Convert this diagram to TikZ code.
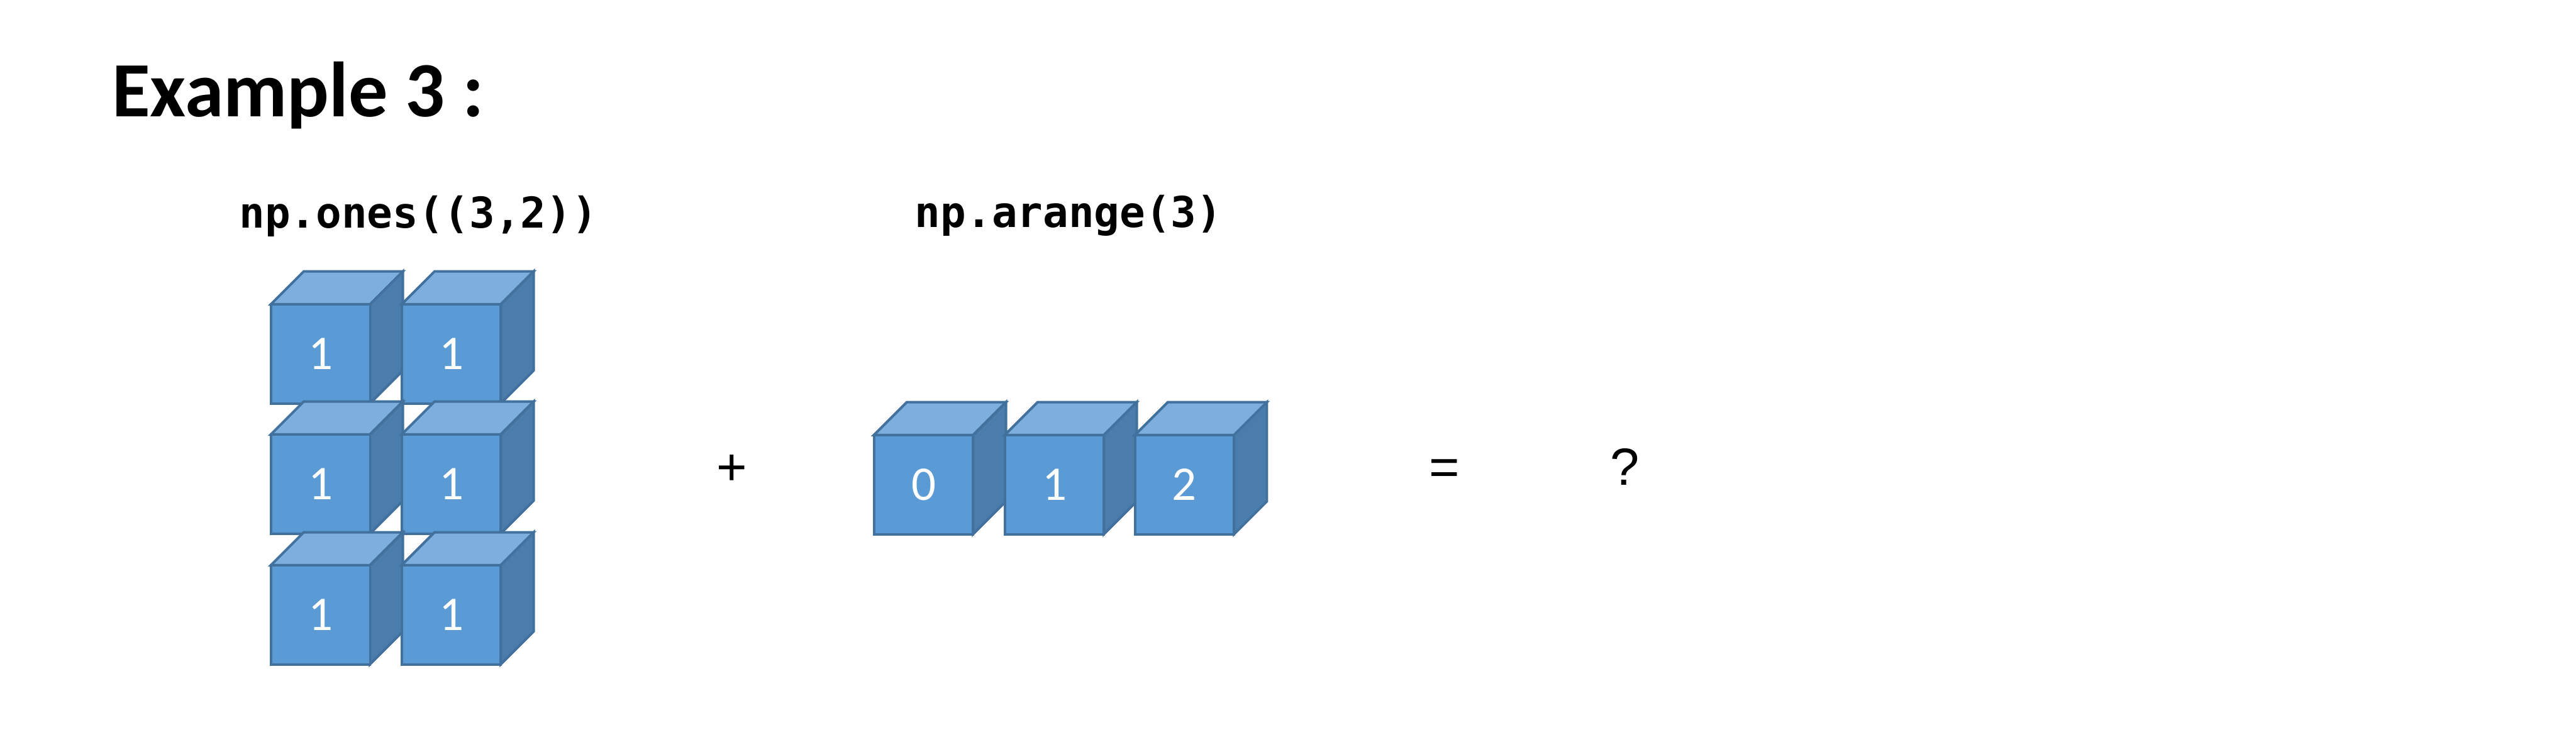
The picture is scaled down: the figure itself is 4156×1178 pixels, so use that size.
\documentclass[tikz,border=0pt]{standalone}
\usepackage{fontspec}
\setmainfont{Carlito}
\newfontfamily\codefont{DejaVu Sans Mono}
\newfontfamily\opfont{Liberation Sans}
\definecolor{frontc}{HTML}{5B9BD5}
\definecolor{topc}{HTML}{7DAEDD}
\definecolor{sidec}{HTML}{4A7DAC}
\definecolor{edgec}{HTML}{41719C}
\tikzset{
  face/.style={draw=edgec, line width=0.04cm, line join=miter},
  digit/.style={text=white, inner sep=0pt, font=\fontsize{22.2pt}{26pt}\selectfont},
  codelabel/.style={inner sep=0pt, anchor=base, font=\codefont\bfseries\fontsize{19.5pt}{23pt}\selectfont},
  oplabel/.style={inner sep=0pt, anchor=base, font=\opfont\fontsize{24pt}{28pt}\selectfont},
  titlelabel/.style={inner sep=0pt, anchor=base west, font=\bfseries\fontsize{35.9pt}{42pt}\selectfont},
}
% cube: #1 x, #2 y (top-left of front face, y down), #3 name, #4 text
\newcommand\mycube[4]{%
  \pgfmathsetmacro\cs{160}\pgfmathsetmacro\cd{53}%
  \fill[topc, face] (#1,#2) -- ++(\cd,-\cd) -- ++(\cs,0) -- ++(-\cd,\cd) -- cycle;
  \fill[sidec, face] (#1+\cs,#2) -- ++(\cd,-\cd) -- ++(0,\cs) -- ++(-\cd,\cd) -- cycle;
  \node[face, fill=frontc, minimum width=1.6cm, minimum height=1.6cm, inner sep=0pt, anchor=north west, outer sep=0pt] (#3) at (#1,#2) {};
  \node[digit] (#3t) at (#3.center) {#4};
}
\begin{document}
\begin{tikzpicture}[x=0.01cm, y=-0.01cm]
\useasboundingbox (0,0) rectangle (4156,1178);
\node[titlelabel] (title) at (180,188) {Example 3 :};
\node[codelabel] (onesl) at (675,368) {np.ones((3,2))};
\node[codelabel] (arl) at (1724,367) {np.arange(3)};
% ones (3,2)
\mycube{437}{491}{a11}{1}
\mycube{648}{491}{a12}{1}
\mycube{437}{701}{a21}{1}
\mycube{648}{701}{a22}{1}
\mycube{437}{912}{a31}{1}
\mycube{648}{912}{a32}{1}
% arange(3)
\mycube{1410}{702}{b1}{0}
\mycube{1621}{702}{b2}{1}
\mycube{1831}{702}{b3}{2}
\node[oplabel] (plus) at (1181,783) {+};
\node[oplabel] (eq) at (2330,783) {=};
\node[oplabel] (q) at (2621,783) {?};
\end{tikzpicture}
\end{document}
